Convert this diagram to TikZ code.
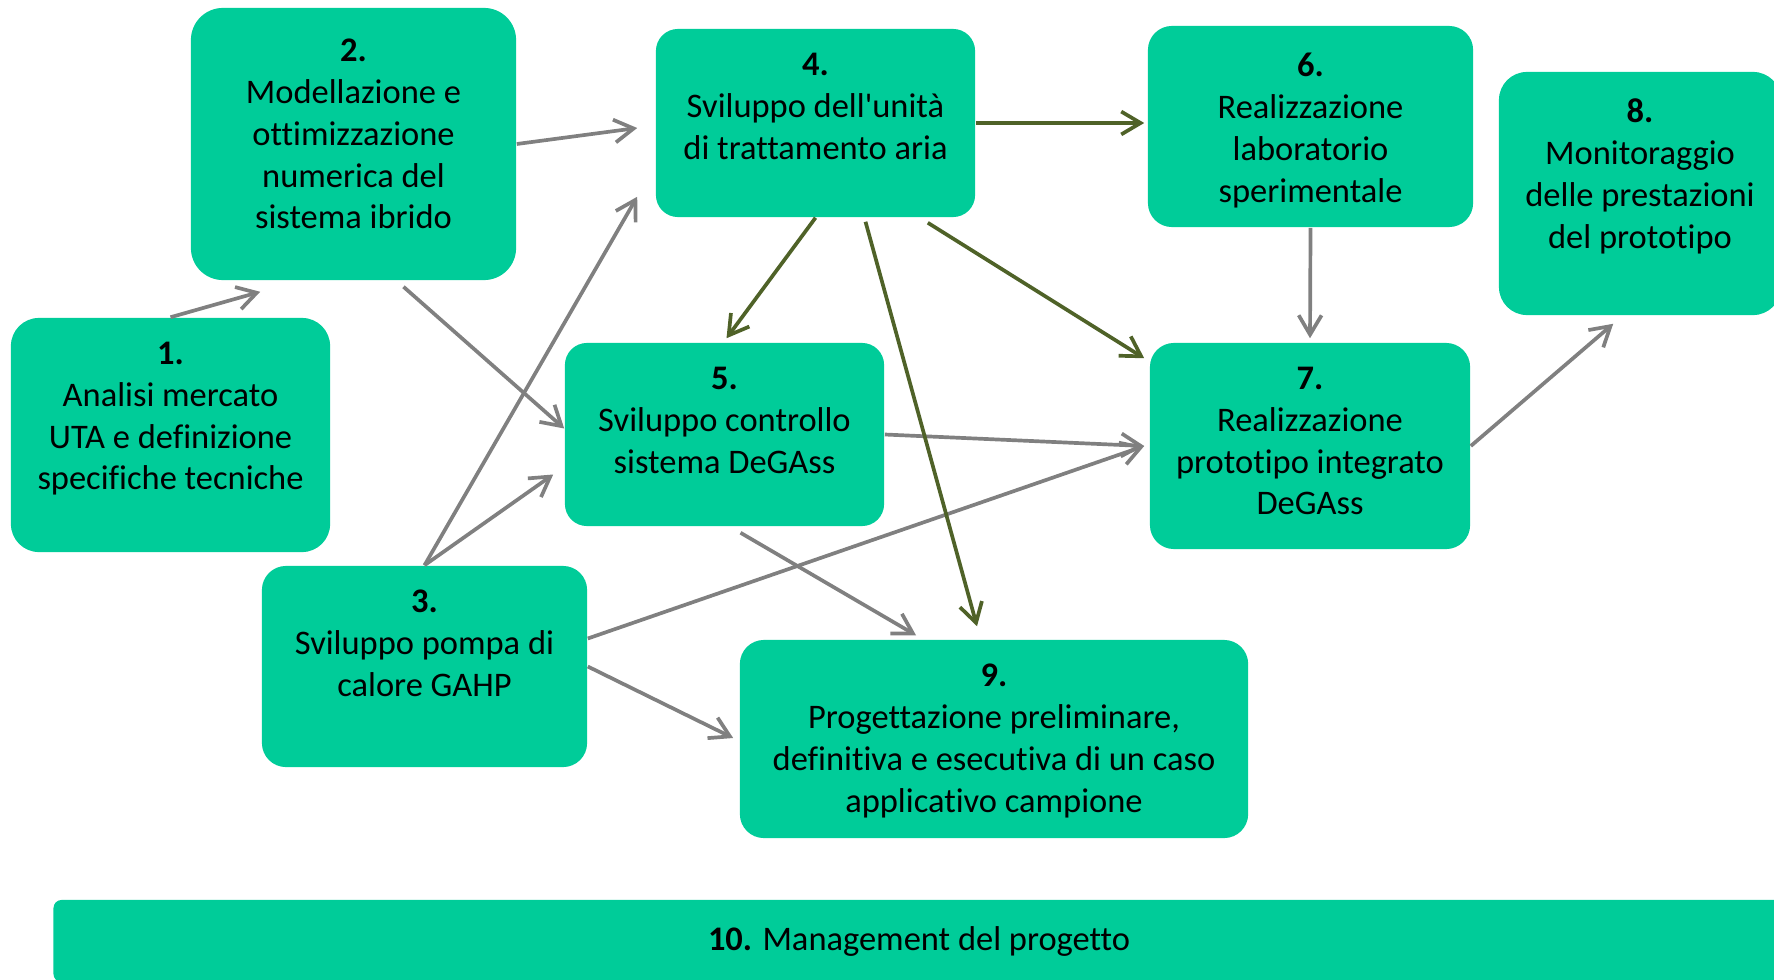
\documentclass[tikz,border=0pt]{standalone}
\usepackage{fontspec}
\setmainfont{Carlito}[Ligatures={TeXOff,CommonOff}]
\usetikzlibrary{arrows.meta,calc}
\definecolor{wpgreen}{RGB}{0,204,153}
\definecolor{argray}{RGB}{128,128,128}
\definecolor{arolive}{RGB}{79,98,40}
\begin{document}
\begin{tikzpicture}[x=0.01cm, y=-0.01cm, every node/.style={font=\fontsize{9.8}{11.9}\selectfont},
  wp/.style={fill=wpgreen,rounded corners=0.24cm,inner sep=0pt},
  txt/.style={anchor=north,align=center,inner sep=0pt,yshift=-0.24cm,execute at begin node=\strut},
  gar/.style={-{Straight Barb[length=5.5pt,width=6.5pt]},line width=1.05pt,argray},
  oar/.style={-{Straight Barb[length=5.5pt,width=6.5pt]},line width=1.05pt,arolive}]
\useasboundingbox (0,0) rectangle (1774,979);
\node[wp,minimum width=3.19cm,minimum height=2.34cm,rounded corners=0.28cm] (p1) at (170.5,435) {};
\node[wp,minimum width=3.25cm,minimum height=2.72cm,rounded corners=0.32cm] (p2) at (353.5,144) {};
\node[wp,minimum width=3.25cm,minimum height=2.01cm] (p3) at (424.5,666.5) {};
\node[wp,minimum width=3.19cm,minimum height=1.88cm,rounded corners=0.22cm] (p4) at (815.5,123) {};
\node[wp,minimum width=3.19cm,minimum height=1.83cm,rounded corners=0.22cm] (p5) at (724.5,434.5) {};
\node[wp,minimum width=3.25cm,minimum height=2.01cm] (p6) at (1310.5,126.5) {};
\node[wp,minimum width=3.20cm,minimum height=2.06cm] (p7) at (1310,446) {};
\node[wp,minimum width=2.82cm,minimum height=2.43cm,rounded corners=0.28cm] (p8) at (1640,193.5) {};
\node[wp,minimum width=5.08cm,minimum height=1.98cm] (p9) at (994,739) {};
\node[wp,minimum width=17.30cm,minimum height=0.82cm,rounded corners=0.08cm] (p10) at (919,941) {\textbf{10.} Management del progetto};
\node[txt] (t1) at (p1.north) {\textbf{1.}\\Analisi mercato\\UTA e definizione\\specifiche tecniche};
\node[txt,yshift=-0.07cm] (t2) at (p2.north) {\textbf{2.}\\Modellazione e\\ottimizzazione\\numerica del\\sistema ibrido};
\node[txt] (t3) at (p3.north) {\textbf{3.}\\Sviluppo pompa di\\calore GAHP};
\node[txt] (t4) at (p4.north) {\textbf{4.}\\Sviluppo dell'unità\\di trattamento aria};
\node[txt] (t5) at (p5.north) {\textbf{5.}\\Sviluppo controllo\\sistema DeGAss};
\node[txt,yshift=-0.03cm] (t6) at (p6.north) {\textbf{6.}\\Realizzazione\\laboratorio\\sperimentale};
\node[txt] (t7) at (p7.north) {\textbf{7.}\\Realizzazione\\prototipo integrato\\DeGAss};
\node[txt,yshift=-0.03cm] (t8) at (p8.north) {\textbf{8.}\\Monitoraggio\\delle prestazioni\\del prototipo};
\node[txt] (t9) at (p9.north) {\textbf{9.}\\Progettazione preliminare,\\definitiva e esecutiva di un caso\\applicativo campione};
\draw[gar] (p1.north) -- ($(p2.south west)+(70,11)$);
\draw[gar] (p2.east) -- ($(p4.west)+(-18,5)$);
\draw[gar] ($(p2.south)+(50,6)$) -- ($(p5.west)+(0,-6)$);
\draw[gar] (p3.north) -- ($(p4.south west)+(-18,-21)$);
\draw[gar] (p3.north) -- ($(p5.west)+(-11,40)$);
\draw[gar] ($(p3.east)+(0,-28)$) -- ($(p7.west)+(-5,0)$);
\draw[gar] (p3.east) -- ($(p9.west)+(-6,-1)$);
\draw[gar] (p5.east) -- ($(p7.west)+(-5,0)$);
\draw[gar] ($(p5.south)+(16,6)$) -- ($(p9.north)+(-78,-4)$);
\draw[oar] (p4.east) -- ($(p6.west)+(-3,-3.5)$);
\draw[oar] (p4.south) -- ($(p5.north)+(2,-4)$);
\draw[oar] ($(p4.south)+(50,4)$) -- ($(p9.north)+(-17,-13)$);
\draw[oar] ($(p4.south east)+(-48,5)$) -- ($(p7.north west)+(-5,16)$);
\draw[gar] (p6.south) -- ($(p7.north)+(0,-4)$);
\draw[gar] (p7.east) -- ($(p8.south west)+(115,8)$);
\end{tikzpicture}
\end{document}
